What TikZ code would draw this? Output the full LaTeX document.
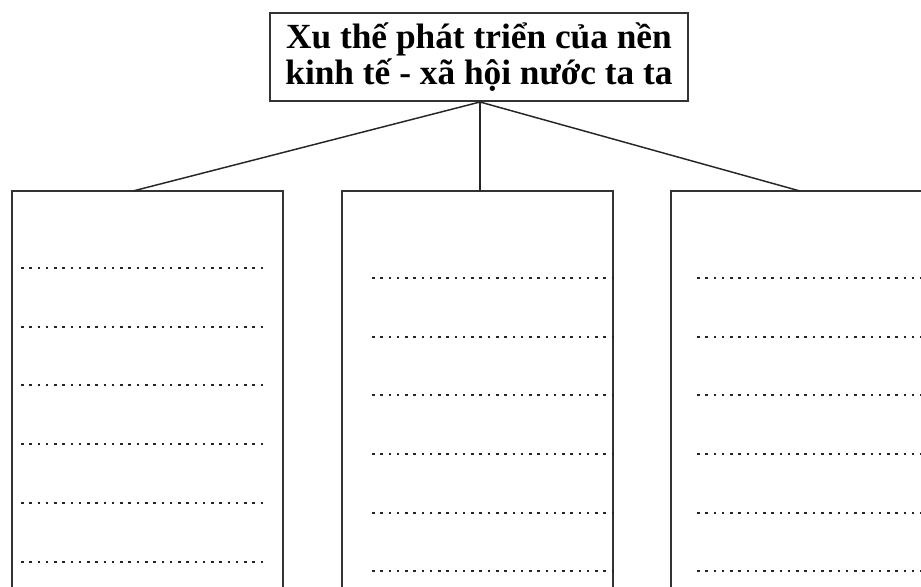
\documentclass[tikz,border=0pt]{standalone}
\usepackage{fontspec}
\setmainfont{Liberation Serif}
\begin{document}
\begin{tikzpicture}[x=0.75pt,y=-0.75pt,
  frame/.style={draw=black!80,line width=1.5pt,inner sep=0pt,outer sep=0pt},
  colbox/.style={frame,anchor=north west,minimum width={271*0.75pt},minimum height={430*0.75pt}},
  link/.style={draw=black!85,line width=1.1pt},
  dotrow/.style={draw=black!85,line width=2pt,dash pattern=on 1.9pt off 4.3pt}]
\clip (0,0) rectangle (921,586);
\fill[white] (0,0) rectangle (921,586);
\node[frame,minimum width={418*0.75pt},minimum height={88*0.75pt},align=center,
  font=\fontsize{26.5}{27}\selectfont\bfseries] (top) at (479,57)
  {Xu thế phát triển của nền\\kinh tế - xã hội nước ta ta};
\node[colbox] (lb) at (12,191) {};
\node[colbox] (mb) at (342,191) {};
\node[colbox] (rb) at (671,191) {};
\coordinate (hub) at (480,102);
\coordinate (lt) at (133,191);
\coordinate (mt) at (480,191);
\coordinate (rt) at (800,191);
\draw[link] (hub) -- (lt);
\draw[link] (hub) -- (mt);
\draw[link] (hub) -- (rt);
\foreach \y in {268,327,385,444,503,562} \draw[dotrow] (21,\y) -- (266,\y);
\foreach \y in {278,337,395,454,513,571} \draw[dotrow] (372,\y) -- (614,\y);
\foreach \y in {278,337,395,454,513,571} \draw[dotrow] (697,\y) -- (925,\y);
\end{tikzpicture}
\end{document}
